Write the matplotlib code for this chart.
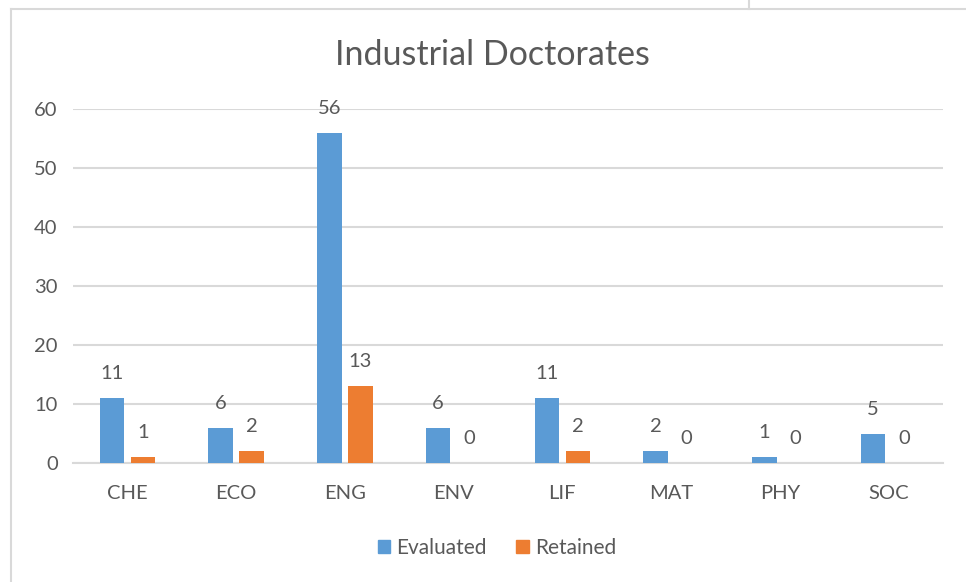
import matplotlib.pyplot as plt
import numpy as np
from matplotlib.lines import Line2D
from matplotlib.patches import Patch

categories = ["CHE", "ECO", "ENG", "ENV", "LIF", "MAT", "PHY", "SOC"]
evaluated = [11, 6, 56, 6, 11, 2, 1, 5]
retained = [1, 2, 13, 0, 2, 0, 0, 0]
yticks = [0, 10, 20, 30, 40, 50, 60]

BLUE = "#5B9BD5"
ORANGE = "#ED7D31"
GRID = "#D9D9D9"
TEXT = "#595959"

plt.rcParams["font.family"] = ["Lato", "DejaVu Sans"]

W, H = 966, 582
fig = plt.figure(figsize=(W / 100, H / 100), dpi=100)
ax = fig.add_axes([73 / W, 1 - 463 / H, (943 - 73) / W, (463 - 109) / H])

x = np.arange(len(categories))
bw = 0.225
off = 0.142
b1 = ax.bar(x - off, evaluated, bw, color=BLUE, zorder=3, label="Evaluated")
b2 = ax.bar(x + off, retained, bw, color=ORANGE, zorder=3, label="Retained")

for bars, vals in ((b1, evaluated), (b2, retained)):
    for rect, v in zip(bars, vals):
        ax.annotate(str(v), (rect.get_x() + rect.get_width() / 2, v),
                    xytext=(0, 17.5), textcoords="offset points",
                    ha="center", va="center", fontsize=14.5, color=TEXT)

ax.set_xlim(-0.5, len(categories) - 0.5)
ax.set_ylim(0, 60)
ax.set_yticks(yticks)
ax.set_xticks(x)
ax.set_xticklabels(categories)
ax.yaxis.grid(True, color=GRID, linewidth=1.5, zorder=0)
ax.set_axisbelow(True)
for s in ("top", "right", "left"):
    ax.spines[s].set_visible(False)
ax.spines["bottom"].set_color(GRID)
ax.spines["bottom"].set_linewidth(1.5)
ax.tick_params(axis="both", length=0, labelsize=14.5, labelcolor=TEXT)
ax.tick_params(axis="y", pad=11)
ax.tick_params(axis="x", pad=16)

fig.text(492 / W, 1 - 55 / H, "Industrial Doctorates", ha="center", va="center",
         fontsize=24.5, color=TEXT)

handles = [Patch(color=BLUE, label="Evaluated"), Patch(color=ORANGE, label="Retained")]
fig.legend(handles=handles, loc="center", bbox_to_anchor=(497 / W, 1 - 548 / H),
           ncol=2, frameon=False, fontsize=15, labelcolor=TEXT,
           handlelength=0.6, handleheight=0.6, handletextpad=0.3, columnspacing=1.4)

# chart-area border and the sheet cell line above it
fig.add_artist(Line2D([11 / W, 11 / W], [0, 1 - 9 / H], color=GRID, linewidth=1.5,
                      transform=fig.transFigure))
fig.add_artist(Line2D([11 / W, 1], [1 - 9 / H, 1 - 9 / H], color=GRID, linewidth=1.5,
                      transform=fig.transFigure))
fig.add_artist(Line2D([749 / W, 749 / W], [1 - 9 / H, 1], color=GRID, linewidth=1.5,
                      transform=fig.transFigure))

fig.savefig("out.png", dpi=100)
